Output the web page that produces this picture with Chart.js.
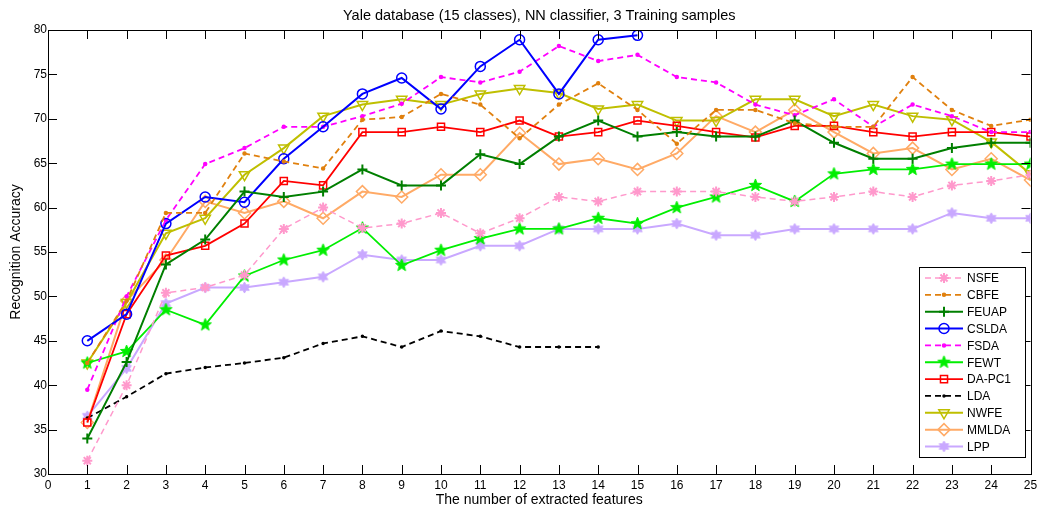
<!DOCTYPE html>
<html>
<head>
<meta charset="utf-8">
<script src="https://cdn.jsdelivr.net/npm/chart.js@4.4.1/dist/chart.umd.min.js"></script>
<style>
  html, body { margin: 0; padding: 0; background: #fff; }
  #wrap { width: 1039px; height: 511px; }
</style>
</head>
<body>
<div id="wrap"><canvas id="myChart" width="1039" height="511"></canvas></div>
<script>
// number of extracted features (x axis)
const features = [1,2,3,4,5,6,7,8,9,10,11,12,13,14,15,16,17,18,19,20,21,22,23,24,25];
const yTicks = [30,35,40,45,50,55,60,65,70,75,80];
const chartTitle = 'Yale database (15 classes), NN classifier, 3 Training samples';

// recognition accuracy per method
const nsfe  = [31.5,40.0,50.4,51.0,52.4,57.6,60.0,57.7,58.2,59.4,57.1,58.8,61.2,60.7,61.8,61.8,61.8,61.2,60.7,61.2,61.8,61.2,62.5,63.0,63.7];
const cbfe  = [42.5,49.5,59.4,59.4,66.1,65.2,64.4,69.9,70.2,72.8,71.6,67.8,71.6,74.0,71.0,67.2,71.0,71.0,69.5,69.1,69.1,74.7,71.0,69.2,69.9];
const feuap = [34.0,42.6,53.6,56.4,61.8,61.2,61.8,64.3,62.5,62.5,66.0,64.9,68.0,69.8,68.0,68.5,68.0,68.0,69.8,67.3,65.5,65.5,66.7,67.3,67.3];
const cslda = [45.0,48.0,58.2,61.2,60.6,65.5,69.1,72.8,74.6,71.1,75.9,78.9,72.8,78.9,79.4];
const fsda  = [39.5,50.0,58.6,64.9,66.7,69.1,69.1,70.3,71.7,74.7,74.1,75.3,78.2,76.5,77.2,74.7,74.1,71.6,70.4,72.2,69.1,71.6,70.3,68.5,68.5];
const fewt  = [42.5,43.8,48.5,46.8,52.3,54.1,55.2,57.7,53.5,55.2,56.5,57.6,57.6,58.8,58.2,60.0,61.2,62.5,60.7,63.8,64.3,64.3,64.9,64.9,64.9];
const dapc1 = [35.8,48.0,54.6,55.7,58.2,63.0,62.5,68.5,68.5,69.1,68.5,69.8,68.0,68.5,69.8,69.2,68.5,67.9,69.2,69.2,68.5,68.0,68.5,68.5,68.0];
const lda   = [36.3,38.7,41.3,42.0,42.5,43.1,44.7,45.5,44.3,46.1,45.5,44.3,44.3,44.3];
const nwfe  = [42.5,49.3,57.1,58.8,63.7,66.7,70.3,71.6,72.2,71.6,72.8,73.4,72.9,71.1,71.6,69.8,69.8,72.2,72.2,70.3,71.6,70.3,69.9,67.4,63.8];
const mmlda = [35.8,49.5,54.1,60.7,59.4,60.7,58.8,61.8,61.2,63.7,63.7,68.4,64.9,65.5,64.3,66.1,70.3,68.5,71.0,68.5,66.1,66.7,64.3,65.5,63.1];
const lpp   = [36.5,41.9,49.2,51.0,51.0,51.6,52.2,54.7,54.1,54.1,55.7,55.7,57.6,57.6,57.6,58.2,56.9,56.9,57.6,57.6,57.6,57.6,59.4,58.8,58.8];

const FONT = '"Liberation Sans", Arial, sans-serif';

// filled star markers drawn once on small canvases
function starCanvas(points, size, color, innerRatio) {
    const c = document.createElement('canvas');
    c.width = size; c.height = size;
    const g = c.getContext('2d');
    const r = size / 2 - 1, ri = r * innerRatio;
    g.beginPath();
    for (let i = 0; i < points * 2; i++) {
        const a = -Math.PI / 2 + i * Math.PI / points;
        const rr = i % 2 === 0 ? r : ri;
        g.lineTo(size / 2 + rr * Math.cos(a), size / 2 + rr * Math.sin(a));
    }
    g.closePath();
    g.fillStyle = color;
    g.fill();
    g.strokeStyle = color;
    g.lineWidth = 1;
    g.stroke();
    return c;
}
const pentagram = starCanvas(5, 15, '#00ee00', 0.42);
const hexagram = starCanvas(6, 13, '#c9a8ff', 0.55);

function pts(vals) {
    return vals.map((v, i) => ({ x: features[i], y: v }));
}

function series(label, vals, color, width, dash, style, radius, extra) {
    return Object.assign({
        label: label,
        data: pts(vals),
        borderColor: color,
        backgroundColor: 'rgba(0,0,0,0)',
        borderWidth: width,
        borderDash: dash,
        pointStyle: style,
        pointRadius: radius,
        pointBorderColor: color,
        pointBackgroundColor: 'rgba(0,0,0,0)',
        pointBorderWidth: 1.5,
        tension: 0,
        fill: false
    }, extra || {});
}

const datasets = [
    series('NSFE', nsfe, '#ff99cc', 1.5, [6, 4], 'star', 5, { pointBorderWidth: 2 }),
    series('CBFE', cbfe, '#e0800e', 1.8, [6, 4], 'circle', 1.5, { pointBackgroundColor: '#e0800e' }),
    series('FEUAP', feuap, '#007f00', 2, [], 'cross', 5, { pointBorderWidth: 2 }),
    series('CSLDA', cslda, '#0000ff', 2, [], 'circle', 5),
    series('FSDA', fsda, '#ff00ff', 1.8, [6, 4], 'circle', 1.5, { pointBackgroundColor: '#ff00ff' }),
    series('FEWT', fewt, '#00ee00', 1.8, [], pentagram, 7),
    series('DA-PC1', dapc1, '#ff0000', 1.8, [], 'rect', 5),
    series('LDA', lda, '#000000', 1.8, [6, 4], 'circle', 1, { pointBackgroundColor: '#000000' }),
    series('NWFE', nwfe, '#bfbf00', 2, [], 'triangle', 6, { pointRotation: 180 }),
    series('MMLDA', mmlda, '#ffaa66', 2, [], 'rectRot', 6),
    series('LPP', lpp, '#c9a8ff', 2, [], hexagram, 6)
];

// MATLAB-like box, inward ticks, title over the axes and legend
const matlabAxes = {
    id: 'matlabAxes',
    afterDraw(chart) {
        const ctx = chart.ctx;
        const a = chart.chartArea;
        const xs = chart.scales.x, ys = chart.scales.y;
        ctx.save();
        ctx.strokeStyle = '#000';
        ctx.lineWidth = 1;
        ctx.strokeRect(Math.round(a.left) + 0.5, Math.round(a.top) + 0.5, Math.round(a.right - a.left), Math.round(a.bottom - a.top));
        ctx.beginPath();
        const tl = 9;
        for (let v = 0; v <= 25; v++) {
            const px = Math.round(xs.getPixelForValue(v)) + 0.5;
            ctx.moveTo(px, a.bottom); ctx.lineTo(px, a.bottom - tl);
            ctx.moveTo(px, a.top); ctx.lineTo(px, a.top + tl);
        }
        yTicks.forEach(v => {
            const py = Math.round(ys.getPixelForValue(v)) + 0.5;
            ctx.moveTo(a.left, py); ctx.lineTo(a.left + tl, py);
            ctx.moveTo(a.right, py); ctx.lineTo(a.right - tl, py);
        });
        ctx.stroke();

        // title centred over the axes
        ctx.fillStyle = '#000';
        ctx.font = '14.5px ' + FONT;
        ctx.textAlign = 'center';
        ctx.textBaseline = 'middle';
        ctx.fillText(chartTitle, (a.left + a.right) / 2, 16);

        // legend box
        const bx = 919, by = 267, bw = 106, bh = 190;
        ctx.fillStyle = '#fff';
        ctx.fillRect(bx, by, bw, bh);
        ctx.strokeStyle = '#000';
        ctx.strokeRect(bx + 0.5, by + 0.5, bw, bh);
        ctx.font = '12px ' + FONT;
        ctx.textAlign = 'left';
        chart.data.datasets.forEach((ds, i) => {
            const y = by + 11 + i * 16.85;
            ctx.save();
            ctx.strokeStyle = ds.borderColor;
            ctx.lineWidth = ds.borderWidth;
            ctx.setLineDash(ds.borderDash);
            ctx.beginPath();
            ctx.moveTo(925, y); ctx.lineTo(963, y);
            ctx.stroke();
            ctx.setLineDash([]);
            ctx.fillStyle = ds.pointBackgroundColor;
            ctx.strokeStyle = ds.pointBorderColor;
            ctx.lineWidth = ds.pointBorderWidth;
            Chart.helpers.drawPoint(ctx, {
                pointStyle: ds.pointStyle,
                radius: ds.pointRadius,
                rotation: ds.pointRotation || 0,
                borderWidth: ds.pointBorderWidth
            }, 944, y);
            ctx.restore();
            ctx.fillStyle = '#000';
            ctx.fillText(ds.label, 967, y + 1);
        });
        ctx.restore();
    }
};

const ctx = document.getElementById('myChart').getContext('2d');
window.yaleChart = new Chart(ctx, {
    type: 'line',
    data: { datasets: datasets },
    options: {
        responsive: false,
        animation: false,
        events: [],
        layout: { padding: { left: 8, right: 0, top: 30, bottom: 0 } },
        plugins: {
            legend: { display: false },
            tooltip: { enabled: false },
            title: { display: false }
        },
        scales: {
            x: {
                type: 'linear',
                min: 0,
                max: 25,
                grid: { display: false, drawTicks: false },
                border: { display: false },
                ticks: {
                    stepSize: 1,
                    color: '#000',
                    padding: 4,
                    maxRotation: 0,
                    autoSkip: false,
                    font: { family: FONT, size: 12 }
                },
                title: {
                    display: true,
                    text: 'The number of extracted features',
                    color: '#000',
                    padding: { top: 0, bottom: 2 },
                    font: { family: FONT, size: 14 }
                },
                afterFit(scale) { scale.height = 37; scale.paddingRight = 8; }
            },
            y: {
                min: 30,
                max: 80,
                grid: { display: false, drawTicks: false },
                border: { display: false },
                ticks: {
                    stepSize: 5,
                    color: '#000',
                    padding: 1,
                    font: { family: FONT, size: 12 }
                },
                title: {
                    display: true,
                    text: 'Recognition Accuracy',
                    color: '#000',
                    padding: { top: 0, bottom: 2 },
                    font: { family: FONT, size: 14 }
                },
                afterFit(scale) { scale.width = 40; }
            }
        }
    },
    plugins: [matlabAxes]
});
</script>
</body>
</html>
